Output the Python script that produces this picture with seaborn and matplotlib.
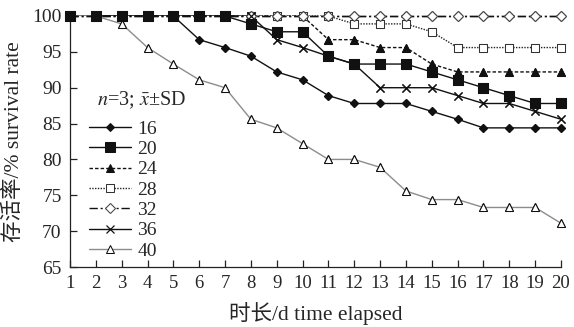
import matplotlib
matplotlib.use("Agg")
import matplotlib.pyplot as plt
import seaborn as sns
import pandas as pd

days = list(range(1, 21))
s16 = [100, 100, 100, 100, 100, 96.7, 95.6, 94.4, 92.2, 91.1, 88.9, 87.8, 87.8, 87.8, 86.7, 85.6, 84.4, 84.4, 84.4, 84.4]
s20 = [100, 100, 100, 100, 100, 100, 100, 98.9, 97.8, 97.8, 94.4, 93.3, 93.3, 93.3, 92.2, 91.1, 90.0, 88.9, 87.8, 87.8]
s24 = [100, 100, 100, 100, 100, 100, 100, 100, 100, 100, 96.7, 96.7, 95.6, 95.6, 93.3, 92.2, 92.2, 92.2, 92.2, 92.2]
s28 = [100, 100, 100, 100, 100, 100, 100, 100, 100, 100, 100, 98.9, 98.9, 98.9, 97.8, 95.6, 95.6, 95.6, 95.6, 95.6]
s32 = [100] * 20
s36 = [100, 100, 100, 100, 100, 100, 100, 100, 96.7, 95.6, 94.4, 93.3, 90.0, 90.0, 90.0, 88.9, 87.8, 87.8, 86.7, 85.6]
s40 = [100, 100, 98.9, 95.6, 93.3, 91.1, 90.0, 85.6, 84.4, 82.2, 80.0, 80.0, 78.9, 75.6, 74.4, 74.4, 73.3, 73.3, 73.3, 71.1]
series_labels = ["16", "20", "24", "28", "32", "36", "40"]
series_values = [s16, s20, s24, s28, s32, s36, s40]
yticks = [65, 70, 75, 80, 85, 90, 95, 100]

sns.set_style("white")
plt.rcParams["font.family"] = ["Liberation Serif", "Noto Sans CJK SC"]
plt.rcParams["mathtext.fontset"] = "stix"

fig = plt.figure(figsize=(5.74, 3.27), dpi=100)
ax = fig.add_axes([70 / 574, 60 / 327, 491 / 574, 251 / 327])

line_styles = {
    "16": dict(color="#111111", linestyle="-"),
    "20": dict(color="#111111", linestyle="-"),
    "24": dict(color="#111111", linestyle=(0, (2.5, 1.5))),
    "28": dict(color="#222222", linestyle=(0, (1, 1))),
    "32": dict(color="#111111", linestyle=(0, (6, 2, 1.5, 2))),
    "36": dict(color="#111111", linestyle="-"),
    "40": dict(color="#8c8c8c", linestyle="-"),
}
marker_styles = {
    "16": dict(marker="D", markersize=4.5, markerfacecolor="#111111", markeredgecolor="#111111"),
    "20": dict(marker="s", markersize=6.5, markerfacecolor="#111111", markeredgecolor="#111111"),
    "24": dict(marker="^", markersize=6, markerfacecolor="#111111", markeredgecolor="#111111"),
    "28": dict(marker="s", markersize=6, markerfacecolor="white", markeredgecolor="#333333"),
    "32": dict(marker="D", markersize=5, markerfacecolor="white", markeredgecolor="#444444"),
    "36": dict(marker="x", markersize=6, markeredgecolor="#111111", markeredgewidth=0.9),
    "40": dict(marker="^", markersize=5.5, markerfacecolor="white", markeredgecolor="#111111"),
}

data = {lab: pd.DataFrame({"day": days, "rate": vals}) for lab, vals in zip(series_labels, series_values)}

# full series (lines + markers) — also provide the legend entries
for lab in series_labels:
    sns.lineplot(data=data[lab], x="day", y="rate", ax=ax, label=lab, linewidth=1.0,
                 clip_on=False, zorder=2, **line_styles[lab], **marker_styles[lab])

# the 32 °C dash-dot line lies on top along the 100 % level
sns.lineplot(data=data["32"], x="day", y="rate", ax=ax, linewidth=1.0, clip_on=False,
             zorder=2.5, gapcolor="white", legend=False, **line_styles["32"])

# markers stacked above the lines
for lab in ["24", "28", "32", "36", "16", "40", "20"]:
    sns.lineplot(data=data[lab], x="day", y="rate", ax=ax, linestyle="none", clip_on=False,
                 zorder=3, legend=False, **marker_styles[lab])

ax.set_xlim(1, 20)
ax.set_ylim(65, 100)
ax.set_xticks(days)
ax.set_xticklabels([str(d) for d in days], fontsize=13.5)
ax.set_yticks(yticks)
ax.set_yticklabels([str(v) for v in yticks], fontsize=14)
ax.tick_params(axis="both", direction="in", length=5, width=0.9, color="#222222", pad=6)
ax.tick_params(axis="x", bottom=True, top=False)
ax.tick_params(axis="y", left=True, right=False)
for side in ["top", "right"]:
    ax.spines[side].set_visible(False)
for side in ["left", "bottom"]:
    ax.spines[side].set_color("#222222")
    ax.spines[side].set_linewidth(0.9)

ax.set_xlabel("时长/d time elapsed", fontsize=15.5, labelpad=7)
ax.set_ylabel("存活率/% survival rate", fontsize=15.5, labelpad=6)

ax.text(0.055, 0.665, r"$n$=3; $\bar{x}$±SD", transform=ax.transAxes, fontsize=14.5, va="center", ha="left")

leg = ax.legend(loc="upper left", bbox_to_anchor=(0.038, 0.585), frameon=False, fontsize=14,
                handlelength=2.2, handletextpad=0.3, labelspacing=0.14, borderpad=0, borderaxespad=0)

fig.savefig("out.png", dpi=100)
